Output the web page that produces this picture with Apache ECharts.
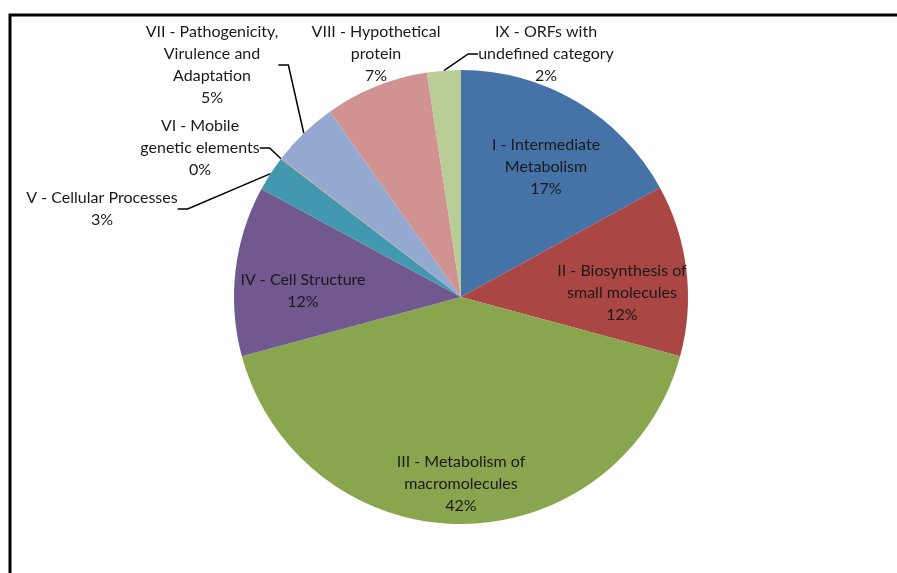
<!DOCTYPE html>
<html><head><meta charset="utf-8">
<script src="https://cdn.jsdelivr.net/npm/echarts@6/dist/echarts.min.js"></script>
<style>html,body{margin:0;padding:0;background:#fff}#c{width:897px;height:573px}</style>
</head><body><div id="c"></div>
<script>
const categories = [
  "I - Intermediate\nMetabolism",
  "II - Biosynthesis of\nsmall molecules",
  "III - Metabolism of\nmacromolecules",
  "IV - Cell Structure",
  "V - Cellular Processes",
  "VI - Mobile\ngenetic elements",
  "VII - Pathogenicity,\nVirulence and\nAdaptation",
  "VIII - Hypothetical\nprotein",
  "IX - ORFs with\nundefined category"
];
const values = [17.0, 12.2, 41.6, 12.1, 2.5, 0.05, 4.75, 7.4, 2.4];
const percentLabels = ["17%", "12%", "42%", "12%", "3%", "0%", "5%", "7%", "2%"];

const colors = ["#4572A7", "#AA4643", "#89A54E", "#71588F", "#4198AF", "#DB843D", "#93A9CF", "#D19392", "#B9CD96"];
// label anchor (centre of text block) and alignment
const labelPlace = [
  {x: 546, y: 167, align: 'center'},
  {x: 622, y: 293, align: 'center'},
  {x: 461, y: 484, align: 'center'},
  {x: 303, y: 291, align: 'center'},
  {x: 102, y: 209, align: 'center'},
  {x: 200, y: 148, align: 'center'},
  {x: 212, y: 65, align: 'center'},
  {x: 376, y: 54, align: 'center'},
  {x: 546, y: 54, align: 'center'}
];
const hasLine = [false, false, false, false, true, true, true, false, true];

const chart = echarts.init(document.getElementById('c'), null, {renderer: 'canvas'});
chart.setOption({
  animation: false,
  graphic: [{
    type: 'rect', shape: {x: 10, y: 15, width: 1000, height: 700},
    style: {fill: 'none', stroke: '#000', lineWidth: 3}, silent: true
  }],
  series: [{
    type: 'pie',
    center: [461, 297],
    radius: 227,
    startAngle: 90,
    clockwise: true,
    minAngle: 0,
    avoidLabelOverlap: false,
    itemStyle: {borderWidth: 0},
    label: {
      show: true,
      formatter: p => p.name + "\n" + percentLabels[p.dataIndex],
      fontFamily: 'Lato',
      fontSize: 16,
      lineHeight: 22,
      color: '#1a1a1a',
      align: 'center'
    },
    labelLine: {show: true, length: 10, length2: 10, smooth: false, lineStyle: {color: '#000', width: 1.5}},
    labelLayout: function (params) {
      const p = labelPlace[params.dataIndex];
      return {x: p.x, y: p.y, align: p.align, verticalAlign: 'middle'};
    },
    data: categories.map((c, i) => ({
      name: c,
      value: values[i],
      itemStyle: {color: colors[i]},
      label: {position: hasLine[i] || i === 7 ? 'outside' : 'inside'},
      labelLine: {show: hasLine[i]}
    }))
  }]
});
</script>
</body></html>
